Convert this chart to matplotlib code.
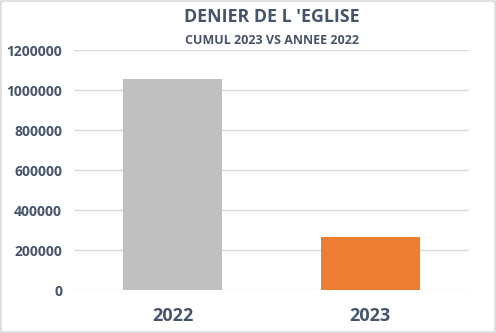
import matplotlib
matplotlib.use("Agg")
import matplotlib.pyplot as plt
from matplotlib.patches import Rectangle

categories = ["2022", "2023"]
values = [1055000, 265000]
colors = ["#BFBFBF", "#ED7D31"]
yticks = [0, 200000, 400000, 600000, 800000, 1000000, 1200000]

txt = "#44546A"
plt.rcParams['font.family'] = ['Open Sans', 'DejaVu Sans']

fig = plt.figure(figsize=(4.96, 3.33), dpi=100)
fig.patches.append(Rectangle((0.002, 0.003), 0.996, 0.994, transform=fig.transFigure,
                             fill=False, edgecolor="#D9D9D9", linewidth=1.2))
ax = fig.add_axes([74/496, 1-290/333, 395/496, 240/333])
x = range(len(categories))
ax.bar(x, values, width=0.5, color=colors, zorder=3)
ax.set_xlim(-0.5, 1.5)
ax.set_ylim(0, 1200000)
ax.set_yticks(yticks)
ax.set_yticklabels([str(v) for v in yticks], fontsize=10, fontweight='bold', color=txt)
ax.set_xticks(list(x))
ax.set_xticklabels(categories, fontsize=13, fontweight='bold', color=txt)
ax.tick_params(axis='both', length=0)
ax.tick_params(axis='y', pad=8.5)
ax.tick_params(axis='x', pad=12)
ax.grid(axis='y', color="#D9D9D9", linewidth=1, zorder=0)
for s in ax.spines.values():
    s.set_visible(False)

fig.text(272/496, 1-17/333, "DENIER DE L 'EGLISE", ha='center', va='center',
         fontsize=12.8, fontweight='bold', color=txt)
fig.text(272/496, 1-40/333, "CUMUL 2023 VS ANNEE 2022", ha='center', va='center',
         fontsize=9, fontweight='bold', color=txt)

fig.savefig("out.png", dpi=100)
